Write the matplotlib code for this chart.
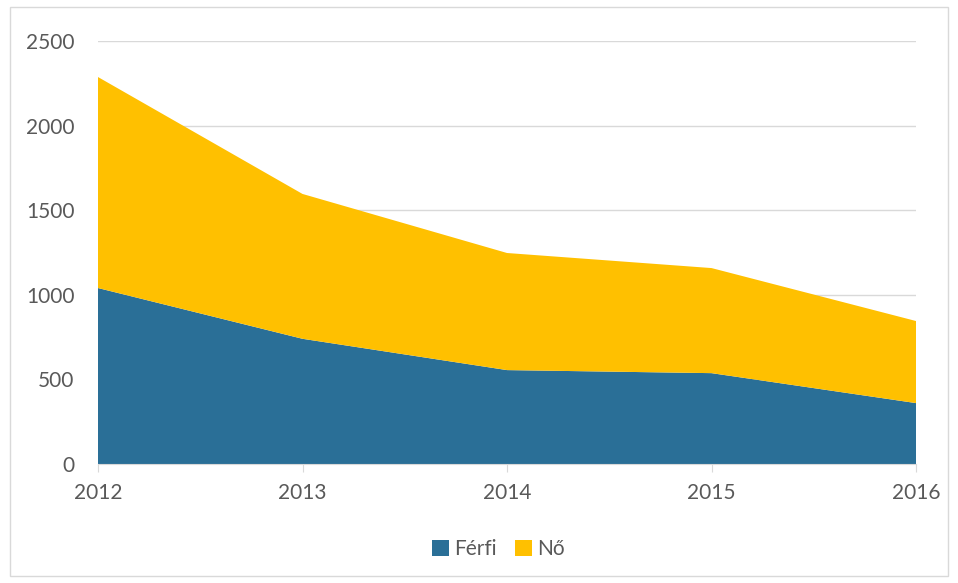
import matplotlib.pyplot as plt
from matplotlib.patches import Rectangle

years = [2012, 2013, 2014, 2015, 2016]
ferfi = [1040, 740, 555, 537, 360]
no = [1247, 856, 692, 621, 485]

plt.rcParams['font.family'] = ['Lato', 'DejaVu Sans']

fig = plt.figure(figsize=(9.58, 5.83), dpi=100)
ax = fig.add_axes([0.1023, 0.2041, 0.8539, 0.7256])

ax.stackplot(years, ferfi, no, colors=["#2a6f97", "#ffc000"],
             labels=["Férfi", "Nő"], zorder=2)

ax.set_xlim(2012, 2016)
ax.set_ylim(0, 2500)
ax.set_yticks([0, 500, 1000, 1500, 2000, 2500])
ax.set_xticks(years)
ax.grid(axis="y", color="#d9d9d9", linewidth=1, zorder=0)
ax.set_axisbelow(True)
for s in ["top", "right", "left"]:
    ax.spines[s].set_visible(False)
ax.spines["bottom"].set_color("#d9d9d9")
ax.tick_params(axis="y", length=0, pad=17, labelsize=15, labelcolor="#595959")
ax.tick_params(axis="x", length=6, color="#d9d9d9", pad=8, labelsize=15,
               labelcolor="#595959")

fig.legend(loc="center", bbox_to_anchor=(0.52, 0.058), ncol=2, frameon=False,
           fontsize=15, labelcolor="#595959", handlelength=0.8,
           handleheight=0.8, handletextpad=0.25, columnspacing=0.9)

fig.patches.append(Rectangle((0.010, 0.012), 0.980, 0.976, transform=fig.transFigure,
                             fill=False, edgecolor="#d9d9d9", linewidth=1))

fig.savefig("out.png", dpi=100)
